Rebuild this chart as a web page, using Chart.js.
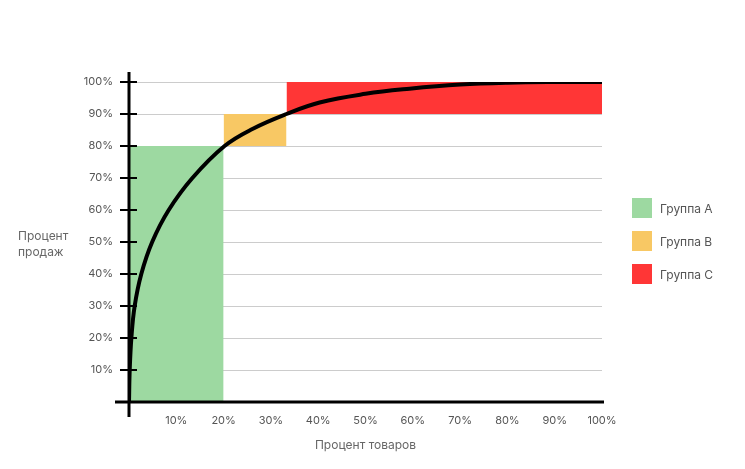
<!DOCTYPE html>
<html>
<head>
<meta charset="utf-8">
<script src="https://cdn.jsdelivr.net/npm/chart.js@4.4.0/dist/chart.umd.min.js"></script>
<style>
  body { margin: 0; background: #fff; font-family: Inter, sans-serif; }
  #wrap { position: relative; width: 745px; height: 469px; }
  #ytitle { position: absolute; left: 18px; top: 228px; font-size: 12px; line-height: 16px; color: #666; }
  #legend { position: absolute; left: 632px; top: 198px; font-size: 12px; color: #555; }
  #legend div { display: flex; align-items: center; height: 20px; margin-bottom: 13px; }
  #legend span.box { width: 20px; height: 20px; margin-right: 8px; }
</style>
</head>
<body>
<div id="wrap">
  <canvas id="chart" width="745" height="469"></canvas>
  <div id="ytitle">Процент<br>продаж</div>
  <div id="legend"></div>
</div>
<script>
// данные
var groupNames = ['Группа A', 'Группа B', 'Группа C'];
var groupColors = ['#9dd9a1', '#f8c864', '#ff3636'];
var groupEdges = [0, 20, 33.3, 100];      // границы групп по товарам, %
var groupLevels = [0, 80, 90, 100];       // границы групп по продажам, %

// кривая Парето
var curveX = [0, 0.15, 0.5, 1.2, 2.6, 4.9, 8.4, 13.4, 20.2, 26.2, 33.3, 40.3, 50, 59.3, 70, 80, 90, 100];
var curveY = [0, 10, 20, 30, 40, 50, 60, 70, 80, 85.4, 90, 93.6, 96.3, 97.9, 99.2, 99.8, 100, 100];

var xTickValues = [0, 10, 20, 30, 40, 50, 60, 70, 80, 90, 100];
var yTickValues = [0, 10, 20, 30, 40, 50, 60, 70, 80, 90, 100];

var xTitle = 'Процент товаров';

Chart.defaults.font.family = 'Inter, sans-serif';
Chart.defaults.color = '#555';

// прямоугольники групп — линии с заливкой до нижней границы
var datasets = [{
  label: 'curve',
  data: curveX.map(function(v, i) { return {x: v, y: curveY[i]}; }),
  borderColor: '#000',
  borderWidth: 4,
  pointRadius: 0,
  tension: 0.4,
  fill: false,
  order: 0
}];
groupNames.forEach(function(name, i) {
  datasets.push({
    label: name,
    data: [{x: groupEdges[i], y: groupLevels[i + 1]}, {x: groupEdges[i + 1], y: groupLevels[i + 1]}],
    backgroundColor: groupColors[i],
    borderWidth: 0,
    pointRadius: 0,
    fill: {value: groupLevels[i]},
    order: 1
  });
});

// оси с чёрными линиями и засечками
var axesPlugin = {
  id: 'axes',
  afterDatasetsDraw: function(chart) {
    var ctx = chart.ctx, x = chart.scales.x, y = chart.scales.y;
    var x0 = x.getPixelForValue(0), y0 = y.getPixelForValue(0);
    function line(a, b, c, d) { ctx.beginPath(); ctx.moveTo(a, b); ctx.lineTo(c, d); ctx.stroke(); }
    ctx.save();
    ctx.strokeStyle = '#000';
    ctx.lineWidth = 2;
    yTickValues.forEach(function(v) {
      if (v === 0) return;
      var py = Math.round(y.getPixelForValue(v));
      line(x0 - 9, py, x0 + 8, py);
    });
    ctx.lineWidth = 3;
    line(x0, y.getPixelForValue(100) - 10, x0, y0 + 15);
    line(x0 - 14, y0, x.getPixelForValue(100) + 2, y0);
    ctx.restore();
  }
};

var chart = new Chart(document.getElementById('chart').getContext('2d'), {
  type: 'line',
  data: { datasets: datasets },
  options: {
    responsive: false,
    animation: false,
    layout: { padding: { left: 0, right: 143, top: 82, bottom: 0 } },
    plugins: { legend: { display: false }, tooltip: { enabled: false } },
    scales: {
      x: {
        type: 'linear', min: 0, max: 100,
        afterBuildTicks: function(s) { s.ticks = xTickValues.map(function(v) { return {value: v}; }); },
        ticks: { padding: 12, maxRotation: 0, autoSkip: false, font: { size: 11 },
          callback: function(v) { return v === 0 ? '' : v + '%'; } },
        grid: { display: false, drawTicks: false },
        border: { display: false },
        title: { display: true, text: xTitle, color: '#666', font: { size: 12 }, padding: { top: 0, bottom: 16 } },
        afterFit: function(s) { s.height = 67; }
      },
      y: {
        type: 'linear', min: 0, max: 100,
        afterBuildTicks: function(s) { s.ticks = yTickValues.map(function(v) { return {value: v}; }); },
        ticks: { padding: 16, font: { size: 11 },
          callback: function(v) { return v === 0 ? '' : v + '%'; } },
        grid: { color: '#cccccc', drawTicks: false, lineWidth: 1 },
        border: { display: false },
        afterFit: function(s) { s.width = 129; }
      }
    }
  },
  plugins: [axesPlugin]
});

// легенда
var legend = document.getElementById('legend');
groupNames.forEach(function(name, i) {
  var row = document.createElement('div');
  row.innerHTML = '<span class="box" style="background:' + groupColors[i] + '"></span>' + name;
  legend.appendChild(row);
});
</script>
</body>
</html>
